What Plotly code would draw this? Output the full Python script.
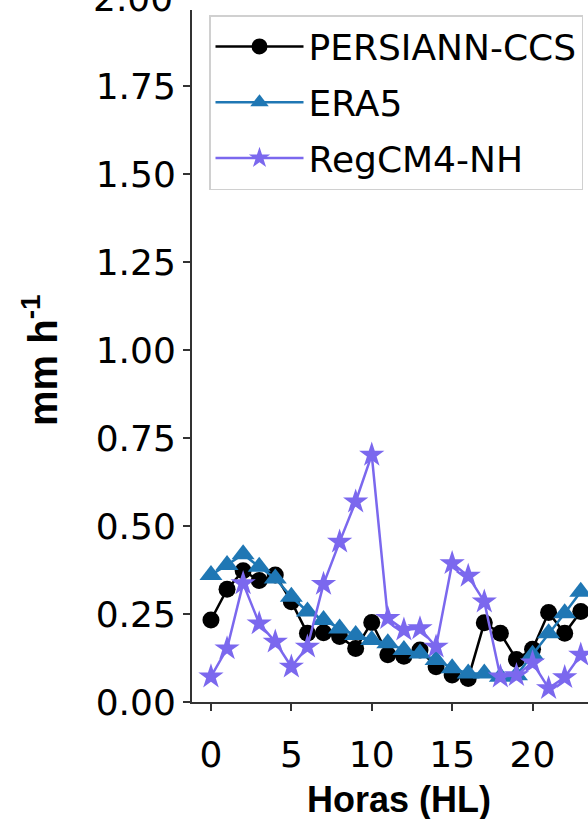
import plotly.graph_objects as go

hours = list(range(24))

persiann = [0.233, 0.320, 0.373, 0.345, 0.361, 0.285, 0.195, 0.197, 0.186, 0.152,
            0.226, 0.134, 0.130, 0.148, 0.100, 0.077, 0.067, 0.225, 0.195, 0.121,
            0.150, 0.254, 0.195, 0.257]

era5 = [0.361, 0.389, 0.420, 0.384, 0.351, 0.299, 0.257, 0.233, 0.209, 0.190,
        0.176, 0.167, 0.148, 0.138, 0.119, 0.096, 0.081, 0.081, 0.072, 0.076,
        0.134, 0.195, 0.252, 0.313]

regcm = [0.072, 0.152, 0.337, 0.223, 0.171, 0.100, 0.157, 0.335, 0.455, 0.569,
         0.702, 0.238, 0.205, 0.209, 0.157, 0.394, 0.358, 0.285, 0.072, 0.076,
         0.112, 0.039, 0.070, 0.134]

y_ticks = [0.0, 0.25, 0.5, 0.75, 1.0, 1.25, 1.5, 1.75]
y_tick_text = ["0.00", "0.25", "0.50", "0.75", "1.00", "1.25", "1.50", "1.75"]
x_ticks = [0, 5, 10, 15, 20]

W, H = 588, 819
L, R, T, B = 192, 0, 10, 117
pw, ph = W - L - R, H - T - B

fig = go.Figure()
fig.add_trace(go.Scatter(
    x=hours, y=persiann, mode="lines+markers", name="PERSIANN-CCS",
    legendgroup="a",
    line=dict(color="black", width=2.5),
    marker=dict(symbol="circle", size=17, color="black", line=dict(width=0)),
))
fig.add_trace(go.Scatter(
    x=hours, y=era5, mode="lines+markers", name="ERA5",
    legendgroup="b",
    line=dict(color="#1f77b4", width=2.5),
    marker=dict(symbol="triangle-up", size=20, color="#1f77b4", line=dict(width=0)),
))
fig.add_trace(go.Scatter(
    x=hours, y=regcm, mode="lines+markers", name="RegCM4-NH",
    legendgroup="c",
    line=dict(color="#7b68ee", width=2.5),
    marker=dict(symbol="star", size=19, color="#7b68ee", line=dict(width=0)),
))

tick_font = dict(family="DejaVu Sans", size=36, color="black")

fig.update_layout(
    width=W, height=H,
    margin=dict(l=L, r=R, t=T, b=B, pad=0),
    paper_bgcolor="white", plot_bgcolor="white",
    showlegend=True,
    legend=dict(
        x=(209 - L) / pw, y=(H - B - 15) / ph, xanchor="left", yanchor="top",
        font=dict(family="DejaVu Sans", size=36, color="black"),
        bordercolor="#d0d0d0", borderwidth=1.5, bgcolor="white",
        tracegroupgap=6, itemwidth=88,
    ),
    xaxis=dict(
        range=[-1.18, 23.45], tickmode="array", tickvals=x_ticks,
        ticks="outside", ticklen=7, tickwidth=2, tickcolor="#333",
        showline=True, linecolor="#333", linewidth=2,
        showgrid=False, zeroline=False, tickfont=tick_font,
        ticklabelstandoff=13,
    ),
    yaxis=dict(
        range=[0, (H - B - T) / 352.0], tickmode="array", tickvals=y_ticks,
        ticktext=y_tick_text,
        ticks="outside", ticklen=7, tickwidth=2, tickcolor="#333",
        showline=True, linecolor="#333", linewidth=2,
        showgrid=False, zeroline=False, tickfont=tick_font,
        ticklabelstandoff=0,
    ),
    annotations=[
        dict(text="2.00", xref="paper", yref="paper",
             x=(175 - L) / pw, y=(H - B + 2) / ph,
             xanchor="right", yanchor="middle", showarrow=False,
             font=tick_font),
        dict(text="<b>mm h<sup>-1</sup></b>", xref="paper", yref="paper",
             x=(40 - L) / pw, y=(H - B - 360) / ph, textangle=-90,
             xanchor="center", yanchor="middle", showarrow=False,
             font=dict(family="Liberation Sans, Arial", size=40, color="black")),
        dict(text="<b>Horas (HL)</b>", xref="paper", yref="paper",
             x=(399 - L) / pw, y=(H - B - 799) / ph,
             xanchor="center", yanchor="middle", showarrow=False,
             font=dict(family="Liberation Sans, Arial", size=36, color="black")),
    ],
)

fig.write_html("out.html")
